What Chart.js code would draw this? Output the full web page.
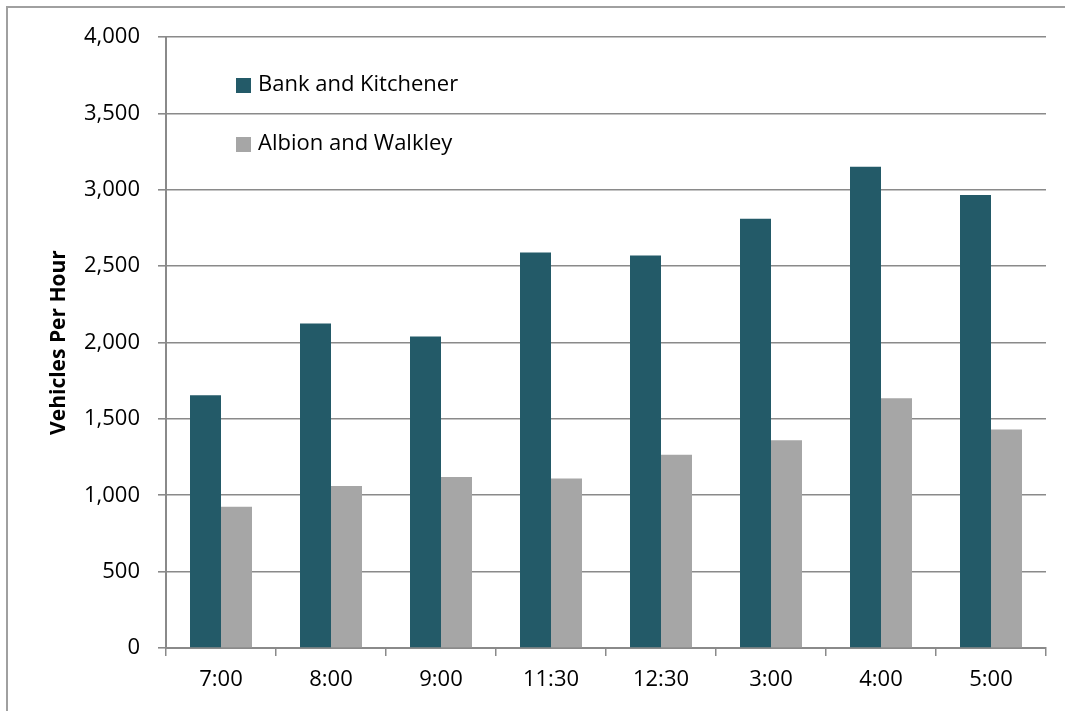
<!DOCTYPE html>
<html>
<head>
<meta charset="utf-8">
<script src="https://cdn.jsdelivr.net/npm/chart.js@4.4.1/dist/chart.umd.min.js"></script>
<style>
  html, body { margin: 0; padding: 0; background: #fff; overflow: hidden; }
  #wrap { position: relative; width: 1065px; height: 711px; }
  #frame { position: absolute; left: 6px; top: 6px; width: 1100px; height: 760px; border: 2px solid #a0a0a0; box-sizing: border-box; }
  canvas { position: absolute; left: 0; top: 0; }
</style>
</head>
<body>
<div id="wrap">
  <div id="frame"></div>
  <canvas id="c" width="1065" height="711"></canvas>
</div>
<script>
// Hourly traffic volumes at two intersections
const timeLabels = ['7:00', '8:00', '9:00', '11:30', '12:30', '3:00', '4:00', '5:00'];
const bankKitchener = [1655, 2125, 2040, 2590, 2570, 2810, 3150, 2965];
const albionWalkley = [925, 1060, 1120, 1110, 1265, 1360, 1635, 1430];
const seriesNames = ['Bank and Kitchener', 'Albion and Walkley'];
const yTicks = [0, 500, 1000, 1500, 2000, 2500, 3000, 3500, 4000];

const FONT = "'Open Sans', 'DejaVu Sans', sans-serif";
const AXIS = '#8a8a8a';

// Legend drawn inside the plot area, upper-left
const insideLegend = {
  id: 'insideLegend',
  afterDraw(chart) {
    const { ctx, chartArea } = chart;
    ctx.save();
    chart.data.datasets.forEach((ds, i) => {
      const cy = chartArea.top + 48 + i * 59;
      const x = chartArea.left + 70;
      ctx.fillStyle = ds.backgroundColor;
      ctx.fillRect(x, cy - 7, 15, 15);
      ctx.fillStyle = '#000';
      ctx.font = '22px ' + FONT;
      ctx.textBaseline = 'middle';
      ctx.textAlign = 'left';
      ctx.fillText(ds.label, x + 22, cy);
    });
    ctx.restore();
  }
};

new Chart(document.getElementById('c'), {
  type: 'bar',
  data: {
    labels: timeLabels,
    datasets: [
      { label: seriesNames[0], data: bankKitchener, backgroundColor: '#235a68' },
      { label: seriesNames[1], data: albionWalkley, backgroundColor: '#a6a6a6' }
    ]
  },
  options: {
    responsive: false,
    animation: false,
    devicePixelRatio: 1,
    layout: { padding: { left: 0, top: 37, right: 19, bottom: 0 } },
    datasets: { bar: { categoryPercentage: 0.5636, barPercentage: 1.0 } },
    plugins: { legend: { display: false }, tooltip: { enabled: false } },
    scales: {
      x: {
        grid: { offset: true, drawOnChartArea: false, drawTicks: true, tickLength: 8, color: AXIS, lineWidth: 1.5 },
        border: { color: AXIS, width: 2 },
        ticks: { color: '#000', font: { family: FONT, size: 22 }, padding: 11 },
        afterFit(s) { s.height = 63; }
      },
      y: {
        min: 0, max: 4000,
        afterBuildTicks(s) { s.ticks = yTicks.map(v => ({ value: v })); },
        grid: { color: AXIS, lineWidth: 1.6, tickLength: 8 },
        border: { color: AXIS, width: 2 },
        ticks: {
          color: '#000', font: { family: FONT, size: 22 }, padding: 18,
          callback: v => v.toLocaleString('en-US')
        },
        title: {
          display: true, text: 'Vehicles Per Hour', color: '#000',
          font: { family: FONT, size: 21, weight: 'bold' },
          padding: { top: 46, bottom: 0 }
        },
        afterFit(s) { s.width = 166; }
      }
    }
  },
  plugins: [insideLegend]
});
</script>
</body>
</html>
